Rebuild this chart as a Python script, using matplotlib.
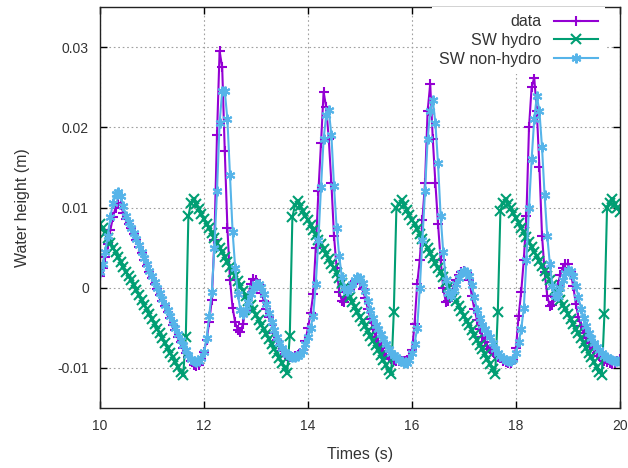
import numpy as np
import matplotlib.pyplot as plt

plt.rcParams['font.family'] = ['Liberation Sans', 'DejaVu Sans']

# sample times (s), one every 0.05 s
times = np.linspace(10.0, 20.0, 201)

# water height, in mm (one row per second)
data_mm = [
    1.5, 2.5, 3.8, 5.5, 7.2, 8.8, 10.0, 10.6, 10.3, 9.3, 8.6, 8.0, 7.4, 6.7, 5.9, 5.1, 4.3, 3.5, 2.7, 1.9,
    1.2, 0.5, -0.2, -0.9, -1.6, -2.3, -3.0, -3.8, -4.6, -5.3, -6.1, -6.8, -7.5, -8.1, -8.7, -9.2, -9.6, -9.8, -9.6, -8.9,
    -8.0, -6.5, -4.3, -1.5, 6.0, 19.0, 29.5, 27.5, 17.0, 7.5, 1.0, -2.5, -4.3, -5.3, -5.5, -4.5, -2.8, -1.0, 0.4, 1.1,
    0.9, 0.3, -0.6, -1.6, -2.6, -3.6, -4.6, -5.6, -6.5, -7.3, -7.9, -8.3, -8.5, -8.6, -8.6, -8.5, -8.4, -8.2, -7.8, -6.6,
    -5.0, -3.2, -0.8, 5.0, 12.0, 18.0, 24.4, 22.5, 18.5, 13.0, 6.5, 2.5, -0.5, -1.6, -1.8, -1.1, -0.3, 0.4, 0.8, 0.9,
    0.6, -0.2, -1.3, -2.6, -3.9, -5.1, -6.1, -6.9, -7.5, -8.0, -8.4, -8.7, -8.9, -9.0, -9.1, -9.1, -9.1, -9.1, -9.0, -8.6,
    -7.8, -4.5, 0.5, 3.5, 8.5, 13.0, 22.0, 25.4, 18.5, 13.0, 8.0, 3.5, 0.0, -1.8, -1.7, -0.8, 0.2, 1.0, 1.6, 2.0,
    2.1, 1.8, 0.9, -1.0, -2.7, -4.0, -5.2, -6.1, -6.8, -7.3, -7.6, -8.0, -8.3, -8.6, -8.8, -9.1, -9.3, -9.4, -9.4, -9.0,
    -7.5, -3.5, -0.5, 3.5, 9.0, 20.0, 25.0, 26.2, 22.0, 15.0, 6.5, 2.0, -1.0, -2.3, -2.2, -1.2, 0.3, 1.6, 2.5, 3.0,
    2.9, 2.0, 0.2, -2.0, -3.7, -4.8, -5.6, -6.3, -6.9, -7.3, -7.7, -8.1, -8.5, -8.8, -9.1, -9.3, -9.4, -9.5, -9.4, -9.2,
    -8.9,
]

hydro_mm = [
    8.0, 7.4, 6.8, 6.2, 5.6, 5.0, 4.4, 3.8, 3.2, 2.6, 2.0, 1.5, 0.9, 0.3, -0.3, -0.9, -1.5, -2.1, -2.7, -3.3,
    -3.9, -4.5, -5.1, -5.7, -6.3, -6.9, -7.5, -8.1, -8.7, -9.3, -9.9, -10.5, -10.9, -6.2, 8.9, 10.6, 11.0, 10.4, 9.8, 9.2,
    8.6, 8.0, 7.4, 6.8, 6.2, 5.6, 5.0, 4.4, 3.8, 3.2, 2.6, 2.0, 1.4, 0.8, 0.2, -0.4, -1.0, -1.6, -2.2, -2.8,
    -3.4, -4.0, -4.6, -5.2, -5.8, -6.4, -7.0, -7.6, -8.2, -8.8, -9.4, -10.0, -10.6, -6.0, 8.8, 10.3, 10.8, 10.2, 9.6, 9.0,
    8.4, 7.8, 7.2, 6.6, 6.0, 5.4, 4.8, 4.2, 3.6, 3.0, 2.4, 1.8, 1.2, 0.6, 0.0, -0.6, -1.2, -1.8, -2.4, -3.0,
    -3.6, -4.2, -4.8, -5.4, -6.0, -6.6, -7.2, -7.8, -8.4, -9.0, -9.6, -10.2, -10.8, -3.0, 9.9, 10.5, 10.9, 10.3, 9.7, 9.1,
    8.5, 7.9, 7.3, 6.7, 6.1, 5.5, 4.9, 4.3, 3.7, 3.1, 2.5, 1.9, 1.3, 0.7, 0.1, -0.5, -1.1, -1.7, -2.3, -2.9,
    -3.5, -4.1, -4.7, -5.3, -5.9, -6.5, -7.1, -7.7, -8.3, -8.9, -9.5, -10.1, -10.7, -3.0, 9.6, 10.6, 11.1, 10.5, 9.9, 9.3,
    8.7, 8.1, 7.5, 6.9, 6.3, 5.7, 5.1, 4.5, 3.9, 3.3, 2.7, 2.1, 1.5, 0.9, 0.3, -0.3, -0.9, -1.5, -2.1, -2.7,
    -3.3, -3.9, -4.5, -5.1, -5.7, -6.3, -6.9, -7.5, -8.1, -8.7, -9.3, -9.9, -10.5, -10.9, -3.3, 9.9, 10.6, 11.1, 10.5, 9.9,
    9.4,
]

nonhydro_mm = [
    2.0, 3.0, 4.5, 6.5, 8.8, 10.6, 11.7, 11.9, 11.4, 10.2, 9.0, 8.2, 7.5, 6.8, 6.1, 5.3, 4.5, 3.7, 2.9, 2.1,
    1.4, 0.7, 0.0, -0.7, -1.4, -2.1, -2.8, -3.5, -4.3, -5.0, -5.8, -6.5, -7.2, -7.8, -8.4, -8.9, -9.2, -9.3, -9.2, -8.8,
    -8.0, -6.3, -3.5, -0.5, 5.0, 12.0, 20.5, 24.5, 24.5, 21.0, 14.0, 7.0, 2.5, -0.8, -2.8, -3.3, -2.8, -1.8, -0.8, 0.0,
    0.4, 0.5, 0.1, -0.8, -2.0, -3.2, -4.3, -5.3, -6.2, -6.9, -7.5, -8.0, -8.3, -8.5, -8.6, -8.6, -8.5, -8.3, -7.9, -7.0,
    -6.2, -5.0, -3.5, 0.5, 6.0, 12.5, 18.5, 21.5, 22.1, 19.0, 12.7, 7.5, 4.0, 1.3, 0.0, -0.4, -0.1, 0.5, 1.0, 1.3,
    1.2, 0.6, -0.4, -1.6, -2.8, -3.8, -4.6, -5.2, -5.8, -6.4, -7.0, -7.6, -8.1, -8.4, -8.7, -9.0, -9.2, -9.4, -9.4, -9.0,
    -8.2, -7.0, -5.0, 0.0, 6.0, 12.0, 18.5, 22.0, 23.4, 20.5, 15.5, 9.0, 4.5, 1.0, -0.6, -1.0, -0.4, 0.4, 1.2, 1.8,
    2.1, 2.0, 1.4, 0.3, -1.2, -2.8, -3.8, -4.6, -5.1, -5.6, -6.2, -6.9, -7.6, -8.1, -8.5, -8.8, -9.0, -9.1, -9.1, -8.9,
    -8.2, -6.8, -5.2, -2.5, 3.5, 10.0, 16.0, 21.0, 23.9, 22.0, 17.5, 11.5, 6.5, 3.0, 0.2, -1.0, -1.0, 0.0, 1.0, 1.8,
    2.2, 2.1, 1.4, 0.2, -1.2, -2.6, -3.8, -4.8, -5.6, -6.3, -6.9, -7.4, -7.8, -8.2, -8.5, -8.7, -8.9, -9.0, -9.1, -9.1,
    -9.1,
]

labels = ['data', 'SW hydro', 'SW non-hydro']
colors = ['#9400d3', '#009e73', '#56b4e9']
markers = ['+', 'x', (6, 2, 0)]

fig = plt.figure(figsize=(6.28, 4.68), dpi=100)
ax = fig.add_axes([0.1592, 0.1282, 0.8281, 0.8568])

series = [data_mm, hydro_mm, nonhydro_mm]
for vals, lab, col, mk in zip(series, labels, colors, markers):
    ax.plot(times, np.array(vals) / 1000.0, color=col, lw=1.5, marker=mk,
            ms=7, mew=1.5, label=lab)

ax.set_xlim(10, 20)
ax.set_ylim(-0.015, 0.035)
ax.set_xticks([10, 12, 14, 16, 18, 20])
ax.set_yticks([-0.01, 0, 0.01, 0.02, 0.03])
ax.set_yticklabels(['-0.01', '0', '0.01', '0.02', '0.03'])
ax.grid(True, color='#a0a0a0', lw=0.8, linestyle=(0, (1.5, 2.5)))
ax.tick_params(direction='in', top=True, right=True, length=5, width=1,
               labelsize=10, labelcolor='#333333', pad=8)
for sp in ax.spines.values():
    sp.set_color('#222222')
    sp.set_linewidth(1)

ax.set_xlabel('Times (s)', fontsize=11.5, color='#333333', labelpad=10)
ax.set_ylabel('Water height (m)', fontsize=11.5, color='#333333', labelpad=20)

leg = ax.legend(loc='upper right', bbox_to_anchor=(0.972, 1.0),
                markerfirst=False, fontsize=11.5, frameon=True,
                fancybox=False, framealpha=1, handlelength=2.8,
                handletextpad=0.75, borderaxespad=0, borderpad=0.45,
                labelspacing=0.24)
leg.get_frame().set_edgecolor('none')
for t in leg.get_texts():
    t.set_color('#333333')

fig.savefig('out.png', dpi=100)
